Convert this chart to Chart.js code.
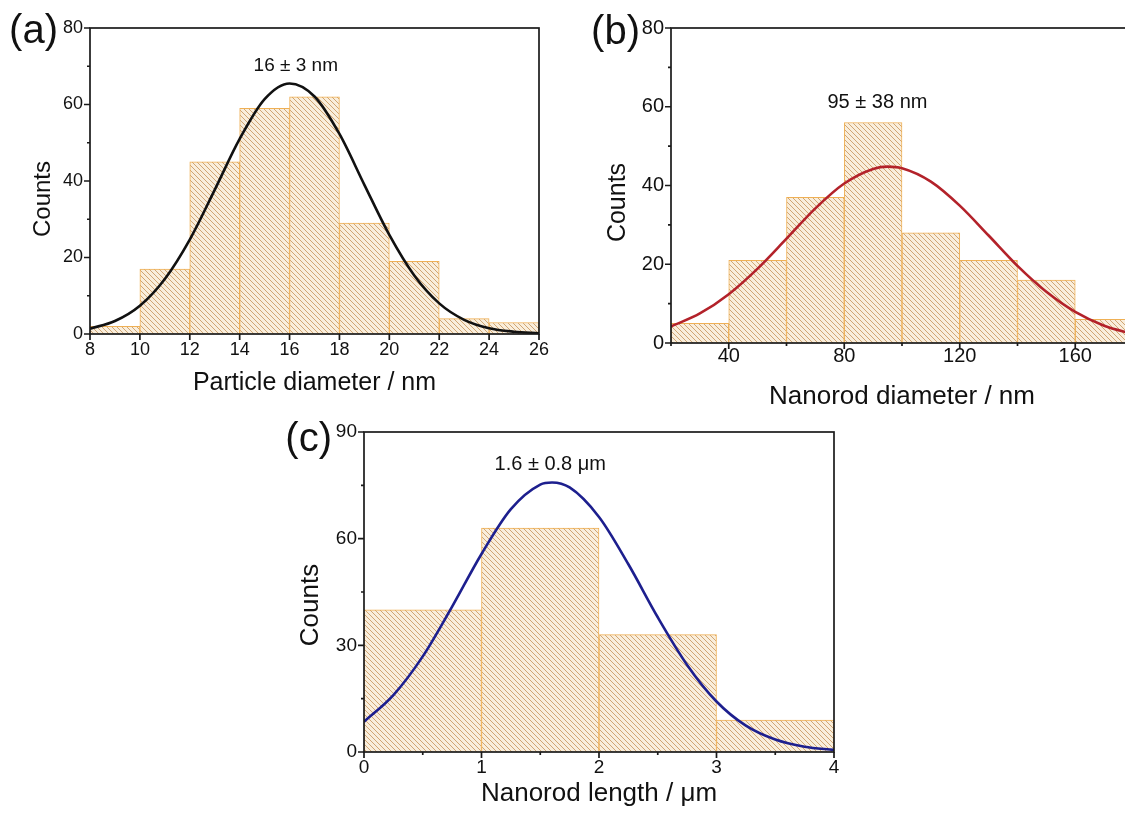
<!DOCTYPE html>
<html>
<head>
<meta charset="utf-8">
<title>Size distributions</title>
<script src="https://cdn.jsdelivr.net/npm/chart.js@4.4.1/dist/chart.umd.min.js"></script>
<style>
  html, body { margin: 0; padding: 0; background: #fff; overflow: hidden; }
  body { width: 1125px; height: 821px; position: relative; }
  canvas { position: absolute; }
</style>
</head>
<body>
<canvas id="chartA" width="560" height="410" style="left:0;top:0"></canvas>
<canvas id="chartB" width="580" height="420" style="left:580px;top:0"></canvas>
<canvas id="chartC" width="580" height="421" style="left:280px;top:400px"></canvas>
<script>
// (a) particle diameter, nm
const aEdges = [8, 10, 12, 14, 16, 18, 20, 22, 24, 26]
const aCounts = [2, 17, 45, 59, 62, 29, 19, 4, 3]
const aFitX = [8, 9, 10, 11, 12, 13, 14, 15, 16, 17, 18, 19, 20, 21, 22, 23, 24, 25, 26]
const aFitY = [1.4, 3.4, 7.4, 14.4, 24.7, 37.7, 51.0, 61.4, 65.5, 62.1, 52.3, 39.0, 25.9, 15.3, 8.0, 3.7, 1.5, 0.6, 0.2]

// (b) nanorod diameter, nm
const bEdges = [20, 40, 60, 80, 100, 120, 140, 160, 180]
const bCounts = [5, 21, 37, 56, 28, 21, 16, 6]
const bFitX = [20, 30, 40, 50, 60, 70, 80, 90, 95, 100, 110, 120, 130, 140, 150, 160, 170, 180]
const bFitY = [4.2, 7.5, 12.4, 18.9, 26.5, 34.2, 40.5, 44.2, 44.8, 44.4, 41.0, 34.9, 27.3, 19.6, 13.0, 7.9, 4.4, 2.3]

// (c) nanorod length, µm
const cEdges = [0, 1, 2, 3, 4]
const cCounts = [40, 63, 33, 9]
const cFitX = [0, 0.25, 0.5, 0.75, 1, 1.25, 1.5, 1.6, 1.75, 2, 2.25, 2.5, 2.75, 3, 3.25, 3.5, 3.75, 4]
const cFitY = [8.5, 16.0, 26.9, 40.9, 55.7, 68.3, 75.2, 75.8, 74.4, 66.1, 52.8, 37.9, 24.5, 14.2, 7.4, 3.5, 1.5, 0.6]

const FONT = '"Liberation Sans", Arial, Helvetica, sans-serif'

// hatched fill for the bars
function hatch() {
  const s = 5
  const c = document.createElement('canvas')
  c.width = s
  c.height = s
  const g = c.getContext('2d')
  g.fillStyle = '#f9eedc'
  g.fillRect(0, 0, s, s)
  g.strokeStyle = '#d1a573'
  g.lineWidth = 1
  g.beginPath()
  g.moveTo(0, 0); g.lineTo(s, s)
  g.moveTo(-1, s - 1); g.lineTo(1, s + 1)
  g.moveTo(s - 1, -1); g.lineTo(s + 1, 1)
  g.stroke()
  return g.createPattern(c, 'repeat')
}

// box frame + outward tick marks (major / minor)
const framePlugin = {
  id: 'frame',
  afterDatasetsDraw(chart, args, opts) {
    const { ctx, chartArea: a, scales: { x, y } } = chart
    ctx.save()
    ctx.strokeStyle = '#1a1a1a'
    ctx.lineWidth = 1.7
    ctx.strokeRect(a.left, a.top, a.right - a.left, a.bottom - a.top)
    ctx.beginPath()
    x.ticks.forEach((t, i) => {
      const px = x.getPixelForValue(t.value)
      const len = t.label !== '' ? 6 : 3
      ctx.moveTo(px, a.bottom); ctx.lineTo(px, a.bottom + len)
      if (opts.xMid && i < x.ticks.length - 1) {
        const pm = x.getPixelForValue((t.value + x.ticks[i + 1].value) / 2)
        ctx.moveTo(pm, a.bottom); ctx.lineTo(pm, a.bottom + 3)
      }
    })
    y.ticks.forEach(t => {
      const py = y.getPixelForValue(t.value)
      const len = t.label !== '' ? 6 : 3
      ctx.moveTo(a.left, py); ctx.lineTo(a.left - len, py)
    })
    ctx.stroke()
    ctx.restore()
  }
}

// panel tag "(a)", the rotated "Counts" title and the mean ± sd note
const notePlugin = {
  id: 'note',
  afterDraw(chart, args, opts) {
    const { ctx, chartArea: a, scales: { x, y } } = chart
    ctx.save()
    ctx.fillStyle = '#111'
    ctx.textBaseline = 'middle'
    ctx.textAlign = 'right'
    ctx.font = '40px ' + FONT
    ctx.fillText(opts.tag, a.left - opts.tagGap, a.top + opts.tagDy)

    ctx.textAlign = 'center'
    ctx.font = opts.noteSize + 'px ' + FONT
    ctx.fillText(opts.note, x.getPixelForValue(opts.noteX), y.getPixelForValue(opts.noteY))

    ctx.translate(a.left - opts.yTitleGap, (a.top + a.bottom) / 2 + opts.yTitleDy)
    ctx.rotate(-Math.PI / 2)
    ctx.font = opts.yTitleSize + 'px ' + FONT
    ctx.fillText('Counts', 0, 0)
    ctx.restore()
  }
}

function histogram(id, p) {
  const bars = p.counts.map((c, i) => ({ x: (p.edges[i] + p.edges[i + 1]) / 2, y: c }))
  const fit = p.fitX.map((v, i) => ({ x: v, y: p.fitY[i] }))
  const tickFont = { family: FONT, size: p.tickSize }

  return new Chart(document.getElementById(id), {
    type: 'bar',
    data: {
      datasets: [{
        type: 'line',
        data: fit,
        borderColor: p.curve,
        borderWidth: 2.6,
        pointRadius: 0,
        cubicInterpolationMode: 'monotone',
        order: 0
      }, {
        data: bars,
        backgroundColor: hatch(),
        borderColor: '#efb055',
        borderWidth: 1,
        barPercentage: 1,
        categoryPercentage: 1,
        order: 1
      }]
    },
    options: {
      responsive: false,
      animation: false,
      layout: { padding: { top: p.padTop, right: p.padRight, left: 0, bottom: 0 } },
      plugins: {
        legend: { display: false },
        tooltip: { enabled: false },
        frame: { xMid: p.xMid },
        note: p.noteOpts
      },
      scales: {
        x: {
          type: 'linear',
          min: p.edges[0],
          max: p.edges[p.edges.length - 1],
          offset: false,
          grid: { display: false, drawTicks: false, offset: false },
          border: { display: false },
          ticks: {
            stepSize: p.xStep,
            autoSkip: false,
            maxRotation: 0,
            padding: p.xTickPad,
            color: '#111',
            font: tickFont,
            callback: v => (v % p.xEvery === 0 ? String(v) : '')
          },
          title: { display: true, text: p.xTitle, color: '#111', font: { family: FONT, size: p.titleSize }, padding: { top: 0, bottom: p.xTitlePad } },
          afterFit: s => { s.height = p.xHeight }
        },
        y: {
          min: 0,
          max: p.yMax,
          grid: { display: false, drawTicks: false },
          border: { display: false },
          ticks: {
            stepSize: p.yStep,
            padding: 7,
            color: '#111',
            font: tickFont,
            callback: v => (v % p.yEvery === 0 ? String(v) : '')
          },
          title: { display: false },
          afterFit: s => { s.width = p.yWidth }
        }
      }
    },
    plugins: [framePlugin, notePlugin]
  })
}

histogram('chartA', {
  edges: aEdges, counts: aCounts, fitX: aFitX, fitY: aFitY, curve: '#111111',
  xStep: 2, xEvery: 2, yMax: 80, yStep: 10, yEvery: 20, xMid: false,
  tickSize: 18, titleSize: 25, xTitle: 'Particle diameter / nm', xTickPad: 5,
  padTop: 28, padRight: 21, yWidth: 90, xHeight: 76, xTitlePad: 12,
  noteOpts: {
    tag: '(a)', tagGap: 32, tagDy: 4, note: '16 ± 3 nm', noteSize: 19, noteX: 16.25, noteY: 70,
    yTitleGap: 47, yTitleDy: 18, yTitleSize: 24
  }
})

histogram('chartB', {
  edges: bEdges, counts: bCounts, fitX: bFitX, fitY: bFitY, curve: '#b3222a',
  xStep: 20, xEvery: 40, yMax: 80, yStep: 10, yEvery: 20, xMid: false,
  tickSize: 20, titleSize: 26, xTitle: 'Nanorod diameter / nm', xTickPad: 1,
  padTop: 28, padRight: 27, yWidth: 91, xHeight: 77, xTitlePad: 8,
  noteOpts: {
    tag: '(b)', tagGap: 31, tagDy: 5, note: '95 ± 38 nm', noteSize: 20, noteX: 91.5, noteY: 61.2,
    yTitleGap: 53, yTitleDy: 17, yTitleSize: 25
  }
})

histogram('chartC', {
  edges: cEdges, counts: cCounts, fitX: cFitX, fitY: cFitY, curve: '#1d1f8e',
  xStep: 1, xEvery: 1, yMax: 90, yStep: 15, yEvery: 30, xMid: true,
  tickSize: 19, titleSize: 26, xTitle: 'Nanorod length / μm', xTickPad: 4,
  padTop: 32, padRight: 26, yWidth: 84, xHeight: 69, xTitlePad: 12,
  noteOpts: {
    tag: '(c)', tagGap: 32, tagDy: 8, note: '1.6 ± 0.8 μm', noteSize: 20, noteX: 1.585, noteY: 81,
    yTitleGap: 53, yTitleDy: 13, yTitleSize: 26
  }
})
</script>
</body>
</html>
